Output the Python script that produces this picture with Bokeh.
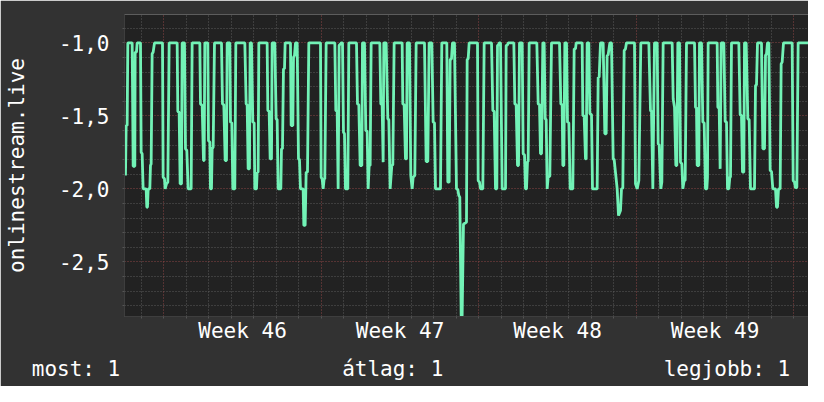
from bokeh.plotting import figure
from bokeh.models import FixedTicker, Grid, Range1d, LinearAxis
from bokeh.embed import file_html
from bokeh.resources import INLINE
import numpy as np

# ---- data: time in days relative to Monday of week 46, value of the series ----
t_days = [
    -1.703, -1.673, -1.629, -1.599, -1.406, -1.362, -1.288, -1.273, -1.214, -1.184,
    -1.036, -1.006, -0.962, -0.918, -0.784, -0.755, -0.725, -0.695, -0.621, -0.592,
    -0.562, -0.518, -0.473, -0.414, -0.058, -0.029, 0.031, 0.060, 0.119, 0.179,
    0.238, 0.594, 0.623, 0.682, 0.727, 0.786, 0.816, 0.919, 0.964, 1.023,
    1.082, 1.216, 1.260, 1.601, 1.631, 1.705, 1.764, 1.794, 1.823, 1.956,
    1.986, 2.045, 2.075, 2.119, 2.149, 2.194, 2.253, 2.564, 2.608, 2.668,
    2.727, 2.786, 2.816, 2.934, 2.964, 3.023, 3.068, 3.156, 3.201,
    3.601, 3.660, 3.705, 3.749, 3.808, 3.838, 3.897, 3.956, 4.016, 4.045,
    4.119, 4.149, 4.193, 4.223, 4.593, 4.623, 4.682, 4.727, 4.786, 4.816,
    4.934, 4.993, 5.038, 5.082, 5.201, 5.230, 5.275, 5.319, 5.364, 5.393,
    5.630, 5.660, 5.734, 5.764, 5.808, 5.853, 5.927, 5.986, 6.030, 6.075,
    6.193, 6.223, 6.282, 6.327, 6.386, 6.445, 6.964, 6.993, 7.038, 7.082,
    7.127, 7.156, 7.216, 7.601, 7.645, 7.705, 7.749, 7.793, 7.853, 7.897,
    7.942, 7.986, 8.030, 8.075, 8.179, 8.223,
    8.564, 8.608, 8.667, 8.727, 8.801, 8.830, 8.919, 8.978, 9.038, 9.082,
    9.127, 9.171, 9.216, 9.601, 9.645, 9.704, 9.749, 9.778, 9.882, 9.956,
    10.001, 10.060, 10.134, 10.178, 10.238, 10.593, 10.623, 10.682, 10.741, 10.786,
    10.816, 10.919, 10.978, 11.038, 11.082, 11.156, 11.216, 11.586, 11.660, 11.734,
    11.793, 11.912, 11.971, 12.030, 12.075, 12.297, 12.356, 12.578, 12.623, 12.682,
    12.727, 12.786, 12.830, 12.919, 13.008, 13.067, 13.112, 13.156, 13.216, 13.260,
    13.319, 13.408,
    13.453, 13.483, 13.528, 13.572, 13.942, 13.972, 14.031, 14.076, 14.179, 14.239,
    14.565, 14.624, 14.683, 14.742, 14.802, 14.831, 14.876, 14.905, 14.965, 15.039,
    15.187, 15.216, 15.276, 15.305, 15.557, 15.602, 15.661, 15.720, 15.765, 15.809,
    15.928, 15.972, 16.031, 16.076, 16.120, 16.165, 16.194, 16.239, 16.579, 16.639,
    16.698, 16.742, 16.787, 16.846, 16.905, 16.950, 16.994, 17.039, 17.083, 17.157,
    17.231, 17.587, 17.646, 17.705, 17.735, 17.779, 17.824, 17.898, 17.942, 18.002,
    18.061, 18.179, 18.239, 18.298, 18.328,
    18.594, 18.624, 18.683, 18.742, 18.772, 18.816, 18.890, 18.935, 19.009, 19.053,
    19.261, 19.305, 19.350, 19.409, 19.527, 19.601, 19.661, 19.705, 19.750, 19.824,
    19.898, 19.972, 20.016, 20.150, 20.209, 20.298, 20.342, 20.401, 20.461, 20.520,
    20.564, 20.920, 20.964, 21.039, 21.113, 21.201, 21.557, 21.631, 21.676, 21.735,
    21.809, 21.927, 21.972, 22.016, 22.090, 22.135, 22.194, 22.594, 22.639, 22.698,
    22.757, 22.801, 22.846, 22.920, 22.964, 23.024, 23.068, 23.127, 23.172, 23.231,
    23.587, 23.631,
    23.675, 23.705, 23.779, 23.809, 23.898, 23.957, 24.016, 24.075, 24.135, 24.164,
    24.194, 24.594, 24.624, 24.683, 24.727, 24.772, 24.890, 24.950, 25.009, 25.053,
    25.112, 25.157, 25.187, 25.231, 25.557, 25.616, 25.675, 25.720, 25.779, 25.809,
    25.883, 25.957, 26.016, 26.075, 26.253, 26.298, 26.342, 26.387, 26.564, 26.624,
    26.698, 26.742, 26.787, 26.831, 26.890, 26.950, 27.009, 27.068, 27.187, 27.231,
    27.275, 27.320, 27.394, 27.438, 27.483, 27.542, 27.927, 27.972, 28.031, 28.075,
    28.135, 28.194, 28.698,
]

values = [
    -1.909, -1.566, -1.566, -1.0, -1.0, -1.845, -1.845, -1.064, -1.064, -1.0,
    -1.0, -1.749, -1.76, -2.0, -2.0, -2.126, -2.126, -2.0, -2.0, -1.84,
    -1.829, -1.075, -1.064, -1.0, -1.0, -1.92, -1.932, -2.0, -1.966, -1.954,
    -1.0, -1.0, -1.47, -1.475, -1.966, -1.966, -1.0, -1.0, -1.726, -1.737,
    -2.0, -2.0, -1.0, -1.0, -1.418, -1.429, -1.806, -1.806, -1.0, -1.0,
    -1.669, -1.68, -2.0, -2.0, -1.726, -1.715, -1.0, -1.0, -1.418, -1.425,
    -1.806, -1.806, -1.0, -1.0, -1.543, -1.548, -2.0, -2.0, -1.0,
    -1.0, -1.418, -1.425, -1.863, -1.863, -1.0, -1.0, -1.543, -1.548, -2.0,
    -2.0, -1.886, -1.886, -1.0, -1.0, -1.463, -1.47, -1.795, -1.795, -1.0,
    -1.0, -1.521, -1.525, -2.0, -2.0, -1.726, -1.726, -1.178, -1.178, -1.0,
    -1.0, -1.566, -1.566, -1.098, -1.087, -1.0, -1.0, -1.795, -1.799, -2.0,
    -2.0, -2.25, -2.25, -1.886, -1.886, -1.0, -1.0, -1.92, -1.932, -2.0,
    -1.932, -1.932, -1.0, -1.0, -1.463, -1.47, -2.0, -1.018, -1.007, -1.0,
    -1.0, -1.612, -1.623, -2.0, -2.0, -1.0,
    -1.0, -1.418, -1.425, -1.84, -1.84, -1.0, -1.0, -1.6, -1.607, -2.0,
    -1.84, -1.84, -1.0, -1.0, -1.418, -1.425, -1.817, -1.0, -1.0, -1.521,
    -1.525, -2.0, -1.84, -1.836, -1.0, -1.0, -1.418, -1.425, -1.795, -1.795,
    -1.0, -1.0, -1.909, -2.0, -1.92, -1.909, -1.0, -1.0, -1.813, -1.813,
    -1.0, -1.0, -1.543, -1.548, -2.0, -2.0, -1.0, -1.0, -1.954, -1.954,
    -1.114, -1.11, -1.0, -1.0, -2.0, -2.005, -2.046, -2.057, -2.868, -2.868,
    -2.24, -2.233,
    -2.228, -1.114, -1.11, -1.0, -1.0, -1.943, -1.954, -2.0, -2.0, -1.0,
    -1.0, -1.463, -1.47, -2.0, -2.0, -1.018, -1.014, -1.0, -1.0, -2.0,
    -2.0, -1.018, -1.014, -1.0, -1.0, -1.418, -1.425, -1.84, -1.84, -1.0,
    -1.0, -1.76, -1.767, -2.0, -2.0, -1.813, -1.813, -1.0, -1.0, -1.418,
    -1.425, -1.76, -1.76, -1.0, -1.0, -1.521, -1.525, -2.0, -1.92, -1.913,
    -1.0, -1.0, -1.418, -1.425, -1.84, -1.84, -1.0, -1.0, -1.543, -1.548,
    -2.0, -2.0, -1.041, -1.041, -1.0,
    -1.0, -1.498, -1.502, -1.795, -1.795, -1.0, -1.0, -1.486, -1.491, -2.0,
    -2.0, -1.235, -1.235, -1.0, -1.0, -1.623, -1.623, -1.087, -1.082, -1.0,
    -1.0, -1.795, -1.799, -2.0, -2.183, -2.148, -2.0, -1.995, -1.053, -1.041,
    -1.0, -1.0, -1.966, -2.0, -1.943, -1.0, -1.0, -1.463, -1.47, -2.0,
    -1.0, -1.0, -1.692, -1.699, -2.0, -1.954, -1.0, -1.0, -1.384, -1.441,
    -1.84, -1.84, -1.0, -1.0, -1.817, -1.829, -2.0, -1.943, -1.943, -1.0,
    -1.0, -1.441,
    -1.447, -1.84, -1.84, -1.0, -1.0, -1.543, -1.548, -2.0, -2.0, -1.92,
    -1.0, -1.0, -1.441, -1.447, -1.863, -1.0, -1.0, -1.539, -1.543, -2.0,
    -2.0, -1.92, -1.92, -1.0, -1.0, -1.493, -1.498, -1.886, -1.886, -1.0,
    -1.0, -1.521, -1.525, -2.0, -2.0, -1.292, -1.288, -1.0, -1.0, -1.726,
    -1.726, -1.087, -1.075, -1.0, -1.0, -1.874, -1.881, -2.0, -2.0, -2.126,
    -2.126, -2.0, -2.0, -1.144, -1.132, -1.0, -1.0, -1.943, -1.954, -1.995,
    -1.989, -1.0, -1.0,
]

week_ticks = [3.5, 10.5, 17.5, 24.5]
week_labels = ["Week 46", "Week 47", "Week 48", "Week 49"]
y_ticks = [-2.5, -2.0, -1.5, -1.0]
y_labels = ["-2,5", "-2,0", "-1,5", "-1,0"]
y_axis_title = "onlinestream.live"
summary_labels = ["most: 1", "átlag: 1", "legjobb: 1"]

# ---- layout / style (pixels of the reference picture; figure fits in 808x386) ----
W, H = 808, 386
FL, FR, FT, FB = 124, 808, 14, 316          # frame edges
PX_PER_DAY, DAY0_PX = 22.5, 163.3           # time scale of the reference
X0, X1 = (FL - DAY0_PX) / PX_PER_DAY, (FR - DAY0_PX) / PX_PER_DAY
Y0, Y1 = -2.874, -0.806
FONT = "DejaVu Sans Mono"
FS = "21px"
BG = "#323232"
PLOT_BG = "#222222"
MINOR = "#5a5a5a"
MAJOR = "#8a4444"
LINE = "#72f2b6"
NBSP = "\u00a0"


def sx(px):
    # reference pixel column -> time value
    return (px - DAY0_PX) / PX_PER_DAY


p = figure(width=W, height=H, output_backend="svg", toolbar_location=None,
           x_range=Range1d(X0, X1), y_range=Range1d(Y0, Y1),
           min_border_left=FL, min_border_right=W - FR,
           min_border_top=FT, min_border_bottom=H - FB,
           background_fill_color=PLOT_BG, border_fill_color=BG,
           outline_line_color=None)

day_ticks = [float(d) for d in range(-1, 29)]
week_starts = [0.0, 7.0, 14.0, 21.0, 28.0]
day_minor = [d for d in day_ticks if d not in week_starts]
y_minor_all = [round(v, 1) for v in np.arange(-2.8, -0.85, 0.1)]
y_minor = [v for v in y_minor_all if v not in y_ticks]

p.xgrid.visible = False
p.ygrid.visible = False
for dim, ticks, color in [(0, day_minor, MINOR), (1, y_minor, MINOR),
                          (0, week_starts, MAJOR), (1, y_ticks, MAJOR)]:
    p.add_layout(Grid(dimension=dim, ticker=FixedTicker(ticks=ticks),
                      grid_line_color=color, grid_line_dash="1 2", grid_line_width=1))

xa = p.xaxis[0]
xa.ticker = FixedTicker(ticks=week_ticks, minor_ticks=day_ticks)
xa.major_label_overrides = dict(zip(week_ticks, week_labels))
xa.major_tick_line_color = None
xa.major_tick_in = 0
xa.major_tick_out = 0
xa.minor_tick_in = 0
xa.minor_tick_out = 2
xa.minor_tick_line_color = "#555555"
xa.axis_line_color = "#3e3e3e"
xa.major_label_text_font = FONT
xa.major_label_text_font_size = FS
xa.major_label_text_color = "#ffffff"
xa.major_label_standoff = 0

# summary line as a second, line-less axis below the time axis (labels centred on ticks);
# the first one starts left of the plot area, so it is padded with non-breaking spaces
summary_pos = [sx(126.1), sx(392.2), sx(726.4)]
summary_text = [summary_labels[0] + NBSP * 8, summary_labels[1], summary_labels[2]]
sa = LinearAxis(ticker=FixedTicker(ticks=summary_pos, minor_ticks=[]),
                major_label_overrides=dict(zip(summary_pos, summary_text)),
                axis_line_color=None, major_tick_line_color=None, minor_tick_line_color=None,
                major_tick_in=0, major_tick_out=0,
                major_label_text_font=FONT, major_label_text_font_size=FS,
                major_label_text_color="#ffffff", major_label_standoff=11)
p.add_layout(sa, "below")

ya = p.yaxis[0]
ya.ticker = FixedTicker(ticks=y_ticks, minor_ticks=y_minor_all)
ya.major_label_overrides = dict(zip(y_ticks, y_labels))
ya.major_tick_line_color = None
ya.major_tick_in = 0
ya.major_tick_out = 0
ya.minor_tick_in = 0
ya.minor_tick_out = 2
ya.minor_tick_line_color = "#555555"
ya.axis_line_color = "#3e3e3e"
ya.major_label_text_font = FONT
ya.major_label_text_font_size = FS
ya.major_label_text_color = "#ffffff"
ya.major_label_standoff = 13
ya.axis_label = y_axis_title
ya.axis_label_text_font = FONT
ya.axis_label_text_font_size = FS
ya.axis_label_text_font_style = "normal"
ya.axis_label_text_color = "#ffffff"
ya.axis_label_standoff = 27

p.line(t_days, values, line_color=LINE, line_width=2.8)

open("out.html", "w").write(file_html(p, INLINE))
